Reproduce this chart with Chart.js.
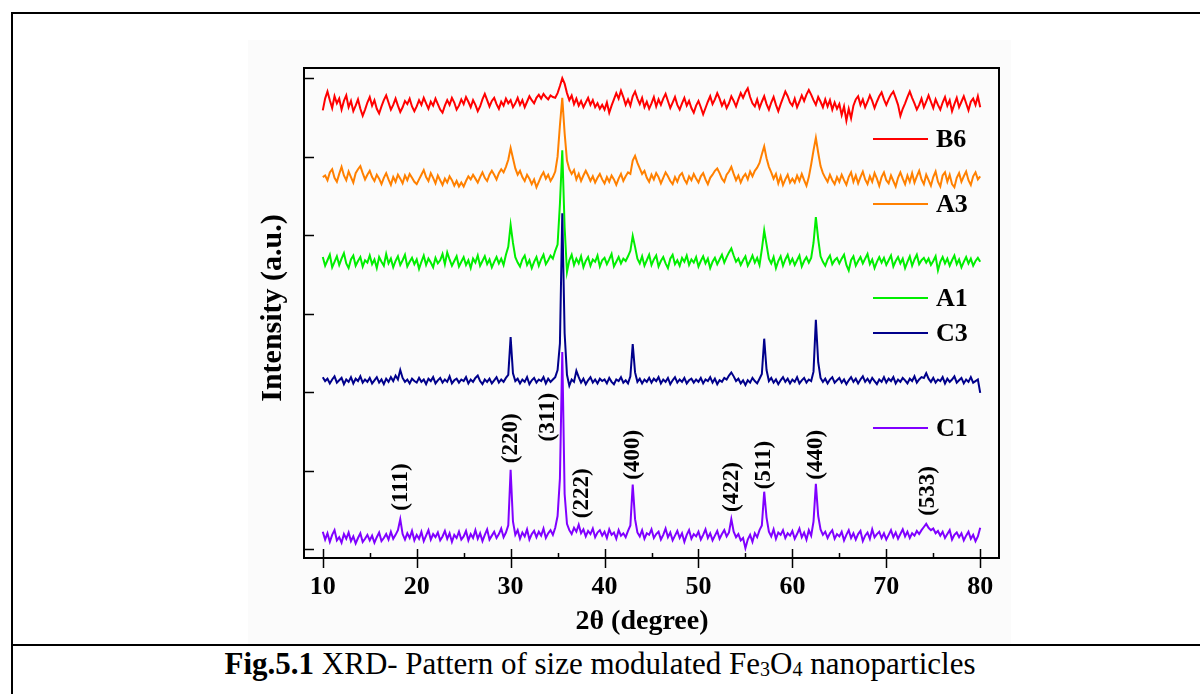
<!DOCTYPE html>
<html>
<head>
<meta charset="utf-8">
<script src="https://cdn.jsdelivr.net/npm/chart.js@4.4.1/dist/chart.umd.min.js"></script>
<style>
  body { margin: 0; width: 1200px; height: 694px; background: #fff; overflow: hidden; position: relative; font-family: "Liberation Serif", "Times New Roman", serif; }
  #frameTop { position: absolute; left: 11px; top: 12px; width: 1189px; height: 2px; background: #000; }
  #frameLeft { position: absolute; left: 11px; top: 12px; width: 2px; height: 682px; background: #000; }
  #frameMid { position: absolute; left: 11px; top: 644px; width: 1189px; height: 2px; background: #000; }
  #plotBox { position: absolute; left: 248px; top: 40px; width: 763px; height: 604px; background: #fbfbfb; }
  #caption { position: absolute; left: 0; width: 1200px; top: 646px; line-height: 36px; text-align: center; font-size: 31px; color: #000; }
  #caption sub { font-size: 20px; vertical-align: -2px; line-height: 0; }
</style>
</head>
<body>
<div id="frameTop"></div>
<div id="frameLeft"></div>
<div id="plotBox"><canvas id="xrd-chart"></canvas></div>
<div id="frameMid"></div>
<div id="caption"><b>Fig.5.1</b> XRD- Pattern of size modulated Fe<sub>3</sub>O<sub>4</sub> nanoparticles</div>
<script>
// scan grid: 10 to 80 degrees, 0.25 degree step
const scanStart = 10;
const scanStep = 0.25;

// intensities (a.u., curves already offset for stacking), one row = 5 degrees
const c1 = [
  22, 12, 20, 9, 18, 24, 11, 15, 8, 19, 13, 21, 10, 16, 7, 14, 20, 9, 13, 18,
  11, 17, 8, 15, 21, 10, 14, 19, 12, 22, 13, 18, 24, 38, 19, 12, 20, 14, 23, 11,
  18, 13, 22, 10, 17, 24, 12, 19, 15, 21, 11, 16, 23, 13, 20, 9, 18, 14, 22, 12,
  16, 23, 11, 19, 14, 24, 13, 20, 10, 18, 25, 12, 17, 22, 14, 19, 26, 15, 21, 30,
  101, 35, 18, 24, 13, 21, 16, 25, 12, 19, 23, 15, 22, 17, 26, 14, 20, 24, 18, 27,
  42, 90, 251, 70, 32, 24, 19, 27, 22, 31, 20, 25, 16, 23, 19, 26, 15, 21, 24, 17,
  22, 14, 25, 18, 21, 13, 24, 17, 20, 15, 23, 30, 82, 38, 21, 16, 24, 13, 20, 18,
  25, 14, 19, 22, 12, 18, 26, 15, 21, 11, 17, 23, 14, 20, 9, 18, 24, 13, 19, 16,
  22, 12, 18, 25, 14, 20, 11, 17, 23, 13, 19, 24, 16, 21, 38, 22, 15, 19, 11, 14,
  1, 12, 18, 9, 20, 15, 24, 30, 73, 40, 22, 16, 25, 13, 21, 18, 24, 14, 20, 17,
  23, 13, 19, 26, 15, 21, 12, 24, 17, 35, 83, 42, 25, 18, 22, 14, 20, 24, 13, 19,
  16, 22, 11, 18, 24, 14, 20, 12, 19, 23, 10, 17, 21, 13, 25, 15, 19, 22, 14, 20,
  12, 18, 24, 15, 21, 13, 19, 25, 16, 22, 14, 20, 17, 23, 19, 24, 28, 32, 27, 24,
  26, 20, 23, 17, 22, 14, 19, 24, 12, 18, 21, 15, 20, 11, 17, 22, 13, 18, 10, 16,
  27
];
const c3 = [
  219, 214, 217, 211, 216, 220, 212, 215, 218, 210, 216, 213, 219, 211, 217, 214, 220, 212, 216, 213,
  218, 211, 215, 219, 212, 216, 210, 217, 213, 219, 214, 221, 216, 228, 218, 213, 216, 211, 217, 214,
  212, 218, 213, 216, 210, 217, 214, 219, 211, 215, 218, 212, 216, 213, 220, 211, 215, 217, 212, 216,
  214, 219, 211, 216, 213, 218, 221, 214, 210, 216, 213, 217, 211, 215, 219, 212, 216, 213, 218, 222,
  270, 224, 214, 217, 211, 216, 213, 219, 210, 215, 218, 212, 216, 214, 219, 211, 217, 213, 216, 219,
  228, 262, 428, 275, 222, 208, 216, 213, 227, 219, 212, 217, 210, 215, 219, 212, 216, 211, 217, 214,
  216, 211, 218, 213, 210, 216, 214, 219, 212, 215, 211, 220, 261, 225, 213, 217, 211, 216, 213, 218,
  212, 217, 214, 219, 211, 216, 213, 218, 210, 215, 219, 212, 216, 213, 218, 211, 215, 217, 212, 216,
  213, 218, 211, 216, 214, 219, 212, 217, 210, 215, 213, 218, 216, 221, 225, 220, 214, 217, 211, 215,
  209, 215, 212, 218, 214, 211, 217, 223, 268, 228, 214, 218, 212, 216, 210, 215, 219, 213, 217, 211,
  216, 213, 219, 211, 215, 218, 212, 216, 214, 226, 292, 238, 218, 213, 217, 211, 216, 219, 212, 215,
  218, 212, 216, 210, 215, 219, 213, 217, 211, 216, 220, 213, 217, 212, 218, 214, 210, 216, 213, 219,
  212, 217, 214, 219, 211, 216, 213, 218, 215, 211, 217, 214, 220, 212, 216, 219, 218, 224, 217, 213,
  218, 212, 216, 214, 219, 211, 217, 213, 216, 220, 212, 215, 218, 211, 216, 213, 219, 212, 214, 216,
  199
];
const a1 = [
  372, 361, 368, 375, 359, 366, 373, 362, 370, 377, 364, 358, 369, 374, 361, 367, 372, 360, 368, 365,
  374, 363, 369, 358, 372, 366, 361, 376, 364, 370, 359, 367, 373, 362, 368, 375, 360, 366, 371, 363,
  369, 357, 366, 374, 362, 370, 365, 359, 371, 364, 368, 376, 363, 378, 369, 361, 367, 373, 360, 366,
  372, 362, 368, 358, 370, 365, 374, 361, 367, 373, 363, 369, 359, 366, 372, 364, 370, 362, 375, 385,
  413, 390, 372, 365, 360, 369, 374, 362, 368, 358, 366, 372, 361, 369, 375, 363, 368, 374, 370, 380,
  388, 440, 508, 410, 353, 368, 375, 362, 370, 364, 373, 359, 367, 372, 361, 369, 366, 374, 360, 368,
  371, 363, 369, 376, 360, 366, 372, 364, 370, 367, 373, 380, 399, 385, 370, 364, 373, 361, 368, 375,
  362, 369, 374, 360, 367, 372, 364, 358, 370, 375, 363, 368, 361, 371, 366, 374, 362, 369, 365, 372,
  360, 367, 373, 364, 370, 358, 366, 371, 363, 369, 375, 365, 372, 378, 383, 374, 366, 370, 362, 368,
  373, 361, 367, 374, 365, 371, 362, 382, 406, 388, 370, 364, 372, 358, 367, 373, 361, 369, 375, 364,
  370, 362, 368, 374, 360, 367, 372, 365, 371, 390, 423, 395, 373, 366, 361, 369, 374, 363, 368, 371,
  364, 370, 375, 362, 355, 368, 373, 361, 367, 372, 364, 370, 376, 363, 369, 358, 366, 372, 365, 371,
  362, 368, 374, 360, 367, 372, 364, 370, 358, 366, 373, 361, 369, 375, 363, 368, 371, 365, 370, 362,
  367, 373, 355, 366, 372, 364, 370, 361, 368, 374, 363, 369, 359, 366, 372, 364, 370, 361, 367, 371,
  366
];
const a3 = [
  474, 476, 470, 480, 484, 473, 468, 478, 487, 476, 470, 481, 474, 467, 479, 484, 488, 479, 471, 477,
  482, 474, 469, 477, 472, 465, 473, 479, 471, 464, 474, 468, 477, 472, 466, 476, 470, 478, 473, 468,
  465, 471, 477, 483, 474, 469, 479, 473, 466, 476, 470, 464, 472, 467, 475, 470, 463, 469, 462, 467,
  462, 469, 475, 471, 477, 472, 467, 474, 480, 473, 469, 477, 482, 477, 471, 479, 484, 480, 487, 496,
  511, 498, 485, 477, 482, 474, 469, 477, 472, 465, 471, 461, 468, 475, 480, 472, 477, 469, 474, 481,
  500, 540, 575, 530, 495, 484, 478, 483, 471, 478, 469, 476, 482, 476, 469, 475, 467, 473, 478, 471,
  466, 474, 468, 476, 471, 464, 472, 478, 469, 475, 480, 478, 495, 501, 492, 485, 478, 482, 473, 468,
  477, 471, 479, 474, 466, 473, 480, 475, 469, 465, 474, 468, 476, 479, 471, 466, 475, 470, 478, 472,
  467, 475, 479, 471, 465, 473, 477, 482, 485, 479, 472, 468, 477, 481, 487, 478, 470, 476, 467, 474,
  478, 471, 481, 475, 482, 486, 492, 503, 513, 498, 487, 480, 472, 478, 466, 475, 464, 471, 477, 467,
  472, 467, 476, 469, 478, 470, 463, 474, 490, 508, 524, 505, 488, 479, 473, 468, 477, 470, 465, 474,
  468, 477, 470, 464, 474, 480, 468, 476, 466, 474, 481, 471, 465, 475, 468, 479, 472, 463, 474, 480,
  470, 466, 476, 469, 462, 473, 480, 472, 465, 476, 468, 479, 467, 475, 482, 471, 465, 477, 470, 463,
  474, 481, 468, 462, 476, 480, 468, 477, 465, 461, 473, 479, 468, 475, 481, 470, 464, 475, 480, 471,
  475
];
const b6 = [
  559, 574, 583, 572, 562, 577, 568, 574, 560, 571, 578, 563, 571, 558, 565, 573, 561, 552, 560, 569,
  576, 565, 572, 561, 555, 564, 572, 578, 569, 560, 566, 574, 565, 557, 563, 571, 567, 574, 564, 558,
  564, 572, 566, 575, 568, 561, 570, 565, 574, 567, 560, 556, 565, 572, 566, 575, 569, 560, 565, 573,
  567, 576, 570, 563, 572, 566, 558, 564, 573, 580, 572, 564, 571, 575, 567, 561, 570, 565, 574, 568,
  572, 563, 568, 575, 566, 572, 563, 570, 577, 572, 568, 575, 579, 574, 580, 576, 573, 578, 576, 575,
  581, 590, 600, 593, 581, 572, 578, 567, 574, 565, 571, 563, 569, 575, 566, 572, 563, 568, 561, 566,
  560, 569, 556, 565, 573, 581, 574, 584, 576, 566, 573, 565, 577, 583, 574, 567, 575, 563, 570, 561,
  568, 576, 564, 573, 566, 574, 580, 571, 562, 569, 576, 566, 560, 568, 575, 565, 571, 562, 556, 565,
  571, 563, 554, 562, 570, 577, 567, 573, 581, 574, 565, 571, 562, 568, 577, 571, 564, 573, 581, 575,
  582, 587, 576, 568, 564, 573, 562, 570, 577, 567, 560, 569, 576, 566, 558, 567, 575, 583, 577, 569,
  565, 574, 563, 570, 578, 571, 579, 585, 579, 572, 566, 576, 570, 563, 573, 564, 572, 560, 569, 561,
  567, 553, 564, 546, 561, 549, 565, 573, 577, 566, 573, 563, 570, 578, 571, 562, 570, 577, 582, 573,
  566, 573, 579, 583, 575, 566, 552, 561, 568, 576, 583, 575, 568, 560, 566, 574, 563, 570, 578, 570,
  562, 573, 566, 560, 569, 576, 565, 572, 558, 567, 575, 563, 570, 577, 568, 559, 570, 574, 566, 577,
  563
];

const sampleNames = ['B6', 'A3', 'A1', 'C3', 'C1'];
const sampleColors = ['#ff0000', '#ff8000', '#00ee00', '#00008b', '#8000ff'];

// Miller indices of the spinel reflections and where their labels sit
const hklLabels = ['(111)', '(220)', '(311)', '(222)', '(400)', '(422)', '(511)', '(440)', '(533)'];
const hklTwoTheta = [18.35, 30.1, 33.97, 37.6, 43.0, 53.6, 57.0, 62.5, 74.5];
const hklLabelY = [79, 141, 168, 71, 120, 79, 107, 120, 74];

const xTickValues = [10, 20, 30, 40, 50, 60, 70, 80];
const yTickValues = [0, 100, 200, 300, 400, 500, 600];

const serif = '"Liberation Serif", "Times New Roman", serif';

function toPoints(values) {
  return values.map((v, i) => ({ x: scanStart + i * scanStep, y: v }));
}

const seriesValues = { B6: b6, A3: a3, A1: a1, C3: c3, C1: c1 };

// C3 is drawn last so it sits on top
const drawOrder = ['C3', 'C1', 'A1', 'A3', 'B6'];
const datasets = drawOrder.map(name => ({
  label: name,
  data: toPoints(seriesValues[name]),
  borderColor: sampleColors[sampleNames.indexOf(name)],
  borderWidth: 2,
  pointRadius: 0,
  tension: 0
}));

// frame, inward ticks, axis titles, legend and hkl labels
const decorations = {
  id: 'decorations',
  afterDraw(chart) {
    const ctx = chart.ctx;
    const area = chart.chartArea;
    const xs = chart.scales.x;
    const ys = chart.scales.y;
    ctx.save();
    ctx.strokeStyle = '#000';
    ctx.lineWidth = 2;
    ctx.strokeRect(area.left, area.top, area.right - area.left, area.bottom - area.top);

    ctx.lineWidth = 1.5;
    ctx.beginPath();
    xTickValues.forEach(v => {
      const px = Math.round(xs.getPixelForValue(v)) + 0.5;
      ctx.moveTo(px, area.bottom - 9);
      ctx.lineTo(px, area.bottom + 10);
    });
    for (let v = 15; v < 80; v += 10) {
      const px = Math.round(xs.getPixelForValue(v)) + 0.5;
      ctx.moveTo(px, area.bottom);
      ctx.lineTo(px, area.bottom - 5);
    }
    yTickValues.forEach(v => {
      const py = Math.round(ys.getPixelForValue(v)) + 0.5;
      ctx.moveTo(area.left, py);
      ctx.lineTo(area.left + 10, py);
    });
    ctx.stroke();

    // axis titles
    ctx.fillStyle = '#000';
    ctx.textAlign = 'center';
    ctx.textBaseline = 'middle';
    ctx.font = 'bold 28px ' + serif;
    ctx.fillText('2θ (degree)', area.left + 338, area.bottom + 64);
    ctx.save();
    ctx.font = 'bold 30px ' + serif;
    ctx.translate(area.left - 31, area.top + 240);
    ctx.rotate(-Math.PI / 2);
    ctx.fillText('Intensity (a.u.)', 0, 0);
    ctx.restore();

    // legend
    const legendY = [71, 136, 230, 265, 360];
    ctx.font = 'bold 26px ' + serif;
    ctx.textAlign = 'left';
    sampleNames.forEach((name, i) => {
      const y = area.top + legendY[i];
      ctx.strokeStyle = sampleColors[i];
      ctx.lineWidth = 2;
      ctx.beginPath();
      ctx.moveTo(area.left + 569, y);
      ctx.lineTo(area.left + 624, y);
      ctx.stroke();
      ctx.fillText(name, area.left + 632, y + 1);
    });

    // reflection labels, rotated
    ctx.font = 'bold 23px ' + serif;
    ctx.textAlign = 'center';
    hklLabels.forEach((t, i) => {
      ctx.save();
      ctx.translate(xs.getPixelForValue(hklTwoTheta[i]), ys.getPixelForValue(hklLabelY[i]));
      ctx.rotate(-Math.PI / 2);
      ctx.fillText(t, 0, 0);
      ctx.restore();
    });
    ctx.restore();
  }
};

new Chart(document.getElementById('xrd-chart'), {
  type: 'line',
  data: { datasets: datasets },
  options: {
    responsive: true,
    maintainAspectRatio: false,
    animation: false,
    layout: { padding: { top: 28, right: 12, left: 0, bottom: 0 } },
    plugins: { legend: { display: false }, tooltip: { enabled: false } },
    scales: {
      x: {
        type: 'linear',
        min: 8,
        max: 82,
        grid: { display: false, drawTicks: false },
        border: { display: false },
        ticks: {
          stepSize: 10,
          includeBounds: false,
          padding: 14,
          color: '#000',
          font: { family: serif, size: 26, weight: 'bold' },
          callback: v => (xTickValues.includes(v) ? v : '')
        },
        afterFit: s => { s.height = 86; }
      },
      y: {
        min: -11.5,
        max: 613,
        grid: { display: false, drawTicks: false },
        border: { display: false },
        ticks: { display: false },
        afterFit: s => { s.width = 56; }
      }
    }
  },
  plugins: [decorations]
});
</script>
</body>
</html>
